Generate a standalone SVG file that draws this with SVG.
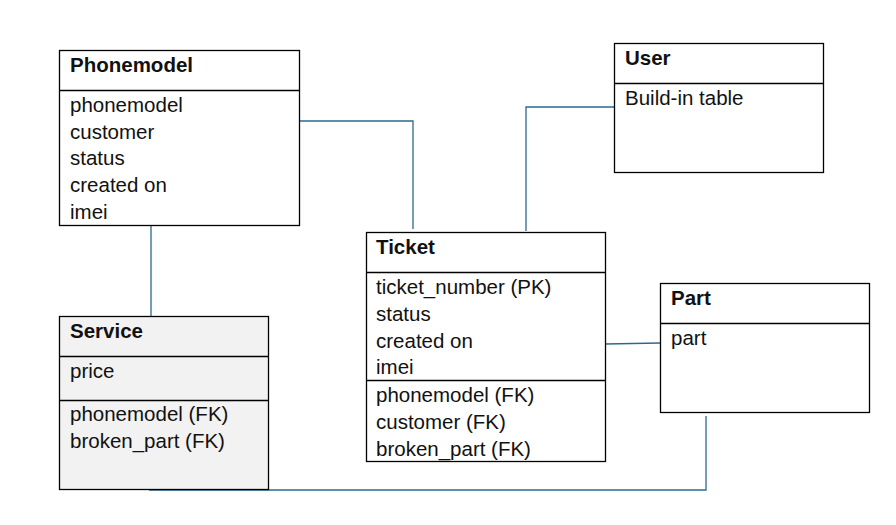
<svg xmlns="http://www.w3.org/2000/svg" width="896" height="525" viewBox="0 0 896 525">
<style>
.box{fill:#ffffff;stroke:#000;stroke-width:1.3}
.grey{fill:#f2f2f2}
.div{stroke:#000;stroke-width:1.3}
.t{font-family:"Liberation Sans",Arial,sans-serif;font-size:20.5px;fill:#111}
.h{font-weight:bold}
.c{fill:none;stroke:#2a6a8e;stroke-width:1.3}
</style>
<rect width="896" height="525" fill="#fff"/>
<g id="connectors">
<polyline class="c" points="300,121 413,121 413,229"/>
<polyline class="c" points="614,107 526,107 526,231"/>
<line class="c" x1="605" y1="344" x2="660" y2="343"/>
<line class="c" x1="151" y1="225" x2="151" y2="316"/>
<polyline class="c" points="149,490 706,490 706,416"/>
</g>
<g id="phonemodel">
<rect class="box" x="59.5" y="50.5" width="240" height="175"/>
<line class="div" x1="59.5" y1="90.5" x2="299.5" y2="90.5"/>
<text class="t h" x="70" y="72">Phonemodel</text>
<text class="t" x="70" y="112">phonemodel</text>
<text class="t" x="70" y="139">customer</text>
<text class="t" x="70" y="165">status</text>
<text class="t" x="70" y="192">created on</text>
<text class="t" x="70" y="219">imei</text>
</g>
<g id="user">
<rect class="box" x="614.5" y="43.5" width="209" height="129"/>
<line class="div" x1="614.5" y1="83.5" x2="823.5" y2="83.5"/>
<text class="t h" x="625" y="65">User</text>
<text class="t" x="625" y="105">Build-in table</text>
</g>
<g id="ticket">
<rect class="box" x="366.5" y="232.5" width="239" height="229"/>
<line class="div" x1="366.5" y1="272.5" x2="605.5" y2="272.5"/>
<line class="div" x1="366.5" y1="380.5" x2="605.5" y2="380.5"/>
<text class="t h" x="376" y="254">Ticket</text>
<text class="t" x="376" y="294">ticket_number (PK)</text>
<text class="t" x="376" y="321">status</text>
<text class="t" x="376" y="348">created on</text>
<text class="t" x="376" y="374">imei</text>
<text class="t" x="376" y="402">phonemodel (FK)</text>
<text class="t" x="376" y="429">customer (FK)</text>
<text class="t" x="376" y="456">broken_part (FK)</text>
</g>
<g id="part">
<rect class="box" x="660.5" y="283.5" width="209" height="129"/>
<line class="div" x1="660.5" y1="323.5" x2="869.5" y2="323.5"/>
<text class="t h" x="671" y="305">Part</text>
<text class="t" x="671" y="345">part</text>
</g>
<g id="service">
<rect class="box grey" x="59.5" y="316.5" width="209" height="173"/>
<line class="div" x1="59.5" y1="356.5" x2="268.5" y2="356.5"/>
<line class="div" x1="59.5" y1="400.5" x2="268.5" y2="400.5"/>
<text class="t h" x="70" y="338">Service</text>
<text class="t" x="70" y="378">price</text>
<text class="t" x="70" y="421">phonemodel (FK)</text>
<text class="t" x="70" y="448">broken_part (FK)</text>
</g>
</svg>
